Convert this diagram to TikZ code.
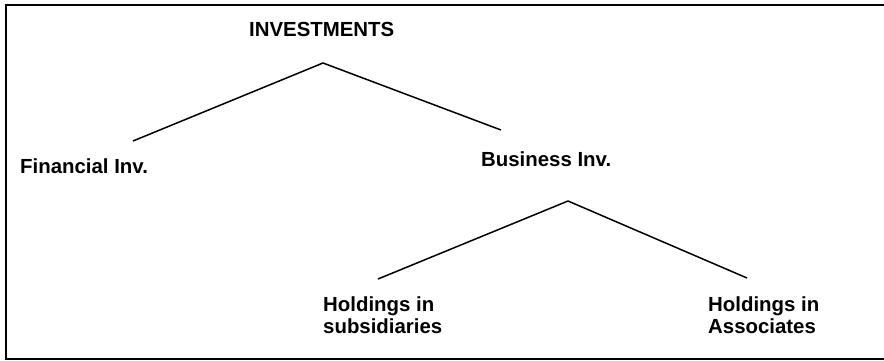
\documentclass[tikz,border=0pt]{standalone}
\usepackage{fontspec}
\setmainfont{Liberation Sans}
\begin{document}
\begin{tikzpicture}[x=1pt,y=-1pt,
  lbl/.style={font=\fontsize{20.4}{21.5}\selectfont\bfseries,inner sep=0pt,anchor=base west,align=left},
  lbl2/.style={font=\fontsize{20.4}{21.5}\selectfont\bfseries,inner sep=0pt,anchor=north west,align=left},
  branch/.style={line width=1.5pt}]
\useasboundingbox (0,0) rectangle (884,360);
\draw[line width=2pt] (6,5) rectangle (900,359);
\node[lbl] (inv) at (249,36.5) {INVESTMENTS};
\node[lbl] (fin) at (20,173) {Financial Inv.};
\node[lbl] (bus) at (481,166.5) {Business Inv.};
\node[lbl2] (sub) at (323,297) {Holdings in\\subsidiaries};
\node[lbl2] (ass) at (708,297) {Holdings in\\Associates};
\coordinate (a1) at (323,63);
\coordinate (l1) at (133,141);
\coordinate (r1) at (501,130);
\coordinate (a2) at (568,201);
\coordinate (l2) at (378,279);
\coordinate (r2) at (747,278);
\draw[branch] (l1) -- (a1) -- (r1);
\draw[branch] (l2) -- (a2) -- (r2);
\end{tikzpicture}
\end{document}
